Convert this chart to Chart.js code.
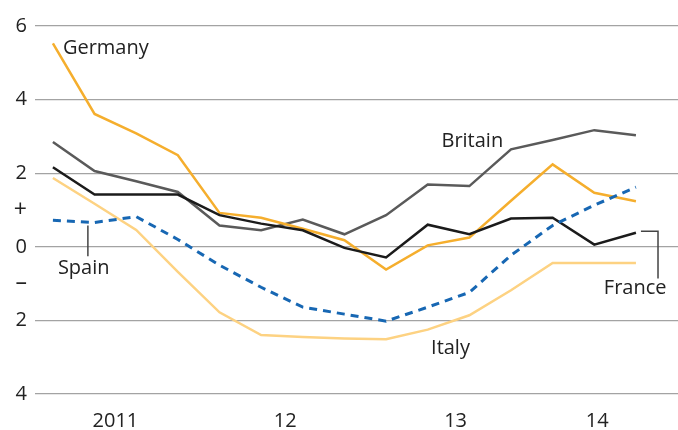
<!DOCTYPE html>
<html><head><meta charset="utf-8">
<script src="https://cdn.jsdelivr.net/npm/chart.js@4"></script>
<style>html,body{margin:0;padding:0;background:#fff}#wrap{width:678px;height:430px;position:relative}</style>
</head><body><div id="wrap"><canvas id="c"></canvas></div>
<script>
// Quarters 2011Q1 .. 2014Q3
const quarters = ["2011Q1","2011Q2","2011Q3","2011Q4","2012Q1","2012Q2","2012Q3","2012Q4","2013Q1","2013Q2","2013Q3","2013Q4","2014Q1","2014Q2","2014Q3"];
const germany = [5.53,3.61,3.08,2.49,0.92,0.79,0.49,0.18,-0.62,0.04,0.25,1.25,2.24,1.47,1.24];
const france  = [2.16,1.42,1.42,1.42,0.86,0.63,0.45,-0.03,-0.29,0.60,0.34,0.77,0.79,0.06,0.38];
const britain = [2.85,2.06,1.78,1.49,0.58,0.45,0.74,0.34,0.86,1.69,1.65,2.65,2.90,3.17,3.03];
const italy   = [1.87,1.17,0.46,-0.68,-1.78,-2.40,-2.45,-2.49,-2.51,-2.25,-1.86,-1.18,-0.44,-0.44,-0.44];
const spain   = [0.72,0.66,0.82,0.20,-0.50,-1.10,-1.64,-1.83,-2.02,-1.64,-1.24,-0.23,0.58,1.13,1.62];

// Axis ticks
const yearLabels = ["2011","12","13","14"];
const yearTickPos = [1.5, 5.58, 9.67, 13.07]; // in quarter-index units
const yTickValues = [6,4,2,1,0,-1,-2,-4];
const yTickLabels = ["6","4","2","+","0","\u2013","2","4"];

// Direct labels (data units)
const seriesLabels = [
  {text:"Germany", x:0.24, y:5.23},
  {text:"Britain", x:9.33, y:2.71},
  {text:"Spain",   x:0.12, y:-0.75},
  {text:"France",  x:13.23, y:-1.29},
  {text:"Italy",   x:9.08, y:-2.92}
];
const connectors = [
  [[0.84,0.58],[0.84,-0.26]],
  [[14.12,0.42],[14.53,0.42],[14.53,-0.86]]
];

const FONT = '"Open Sans", "DejaVu Sans", sans-serif';
const TEXT = '#222222';

const toXY = arr => arr.map((v,i)=>({x:i, y:v}));

const labelPlugin = {
  id:'labels',
  afterDatasetsDraw(chart){
    const {ctx, scales:{x,y}} = chart;
    ctx.save();
    ctx.strokeStyle = '#444';
    ctx.lineWidth = 1.5;
    connectors.forEach(pts=>{
      ctx.beginPath();
      pts.forEach((p,i)=>{
        const px = x.getPixelForValue(p[0]), py = y.getPixelForValue(p[1]);
        if(i===0) ctx.moveTo(px,py); else ctx.lineTo(px,py);
      });
      ctx.stroke();
    });
    ctx.font = '20px ' + FONT;
    ctx.fillStyle = TEXT;
    ctx.textAlign = 'left';
    ctx.textBaseline = 'alphabetic';
    seriesLabels.forEach(l=>{
      ctx.fillText(l.text, x.getPixelForValue(l.x), y.getPixelForValue(l.y));
    });
    ctx.restore();
  }
};

function make(){
  new Chart(document.getElementById('c'), {
    type:'line',
    data:{
      labels: quarters,
      datasets:[
        {label:'Spain', data:toXY(spain), borderColor:'#1767b3', borderWidth:3, borderDash:[8,6]},
        {label:'France', data:toXY(france), borderColor:'#1b1b1b', borderWidth:2.5},
        {label:'Germany', data:toXY(germany), borderColor:'#f5ae2d', borderWidth:2.5},
        {label:'Britain', data:toXY(britain), borderColor:'#5a5a5a', borderWidth:2.5},
        {label:'Italy', data:toXY(italy), borderColor:'#fdd282', borderWidth:2.5}
      ]
    },
    options:{
      responsive:true, maintainAspectRatio:false, animation:false,
      layout:{padding:{top:26,left:0,right:0,bottom:0}},
      elements:{point:{radius:0}, line:{tension:0, fill:false}},
      plugins:{legend:{display:false}, tooltip:{enabled:false}},
      scales:{
        x:{
          type:'linear', min:-0.43, max:15.01,
          grid:{display:false, drawTicks:false},
          border:{display:false},
          afterBuildTicks: s => { s.ticks = yearTickPos.map(v=>({value:v})); },
          afterFit: s => { s.height = 36; },
          ticks:{
            padding:15, maxRotation:0, autoSkip:false,
            font:{family:FONT, size:20}, color:TEXT,
            callback:(v)=> { const i = yearTickPos.indexOf(v); return i>=0 ? yearLabels[i] : ''; }
          }
        },
        y:{
          min:-4, max:6,
          grid:{drawTicks:false, lineWidth:1.2,
            color: c => (c.tick && c.tick.value % 2 === 0) ? '#a3a3a3' : 'rgba(0,0,0,0)'},
          border:{display:false},
          afterBuildTicks: s => { s.ticks = yTickValues.map(v=>({value:v})); },
          afterFit: s => { s.width = 35; },
          ticks:{
            padding:8, autoSkip:false,
            font: c => ({family:FONT, size: (c.tick && Math.abs(c.tick.value) === 1) ? 23 : 20}),
            color:TEXT,
            callback:(v)=> { const i = yTickValues.indexOf(v); return i>=0 ? yTickLabels[i] : ''; }
          }
        }
      }
    },
    plugins:[labelPlugin]
  });
}
if (document.fonts && document.fonts.load) {
  document.fonts.load('20px "Open Sans"').then(make, make);
} else make();
</script>
</body></html>
